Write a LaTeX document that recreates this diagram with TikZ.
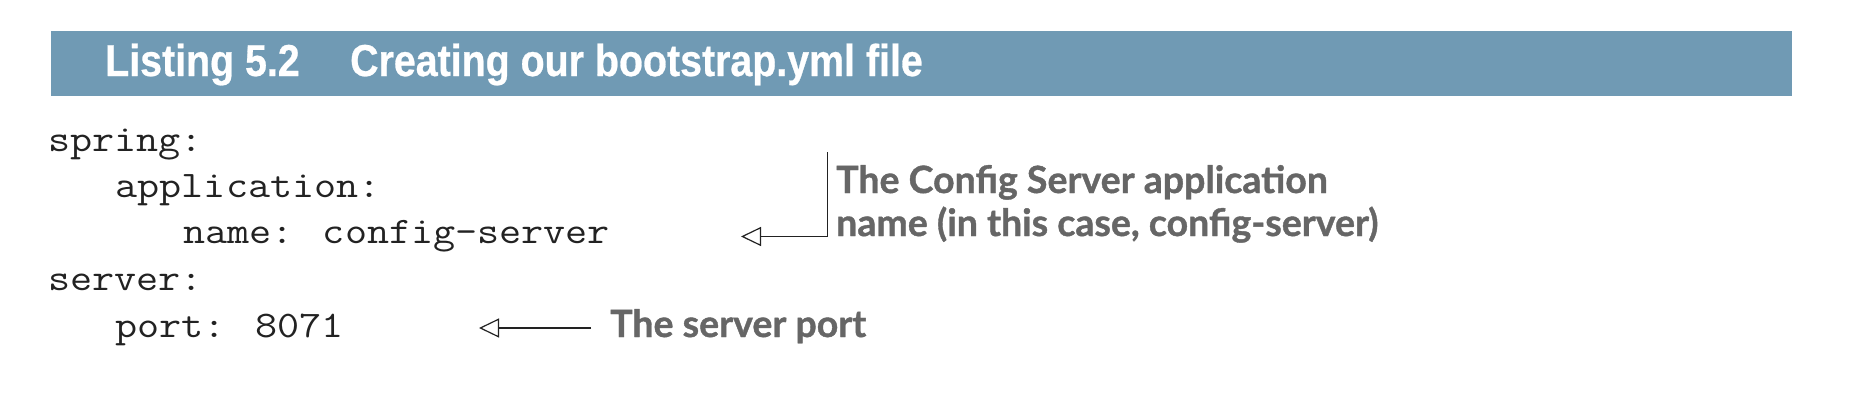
\documentclass[tikz,border=0pt]{standalone}
\usepackage{fontspec}
\usetikzlibrary{arrows.meta}
\newfontfamily\titlefont[FakeStretch=0.88,FakeBold=0.6]{Liberation Sans}
\newfontfamily\callfont[FakeBold=1.0]{Lato}
\newfontfamily\codefont[FakeStretch=1.143]{Latin Modern Mono}
\definecolor{barblue}{RGB}{112,154,180}
\definecolor{callgray}{RGB}{102,102,102}
\definecolor{codeink}{RGB}{34,34,34}
\tikzset{
  titletext/.style={anchor=base west, inner sep=0pt, text=white,
    font=\titlefont\bfseries\fontsize{44.7}{50}\selectfont},
  codeline/.style={anchor=base west, inner sep=0pt, text=codeink,
    font=\codefont\fontsize{37.5}{44}\selectfont},
  calltext/.style={anchor=base west, inner sep=0pt, text=callgray,
    font=\callfont\bfseries\fontsize{37.5}{43}\selectfont},
  callarrow/.style={draw=codeink, line width=1.2pt,
    -{Triangle[open, length=20pt, width=19pt]}}
}
\begin{document}
\begin{tikzpicture}[x=1pt, y=-1pt]
  \useasboundingbox (0,0) rectangle (1856,402);
  \fill[white] (0,0) rectangle (1856,402);
  % header bar
  \fill[barblue] (51,31) rectangle (1792,96);
  \node[titletext] (lst) at (105,76) {Listing 5.2};
  \node[titletext] (ttl) at (350,76) {Creating our bootstrap.yml file};
  % code
  \node[codeline] (l1) at (48,151) {spring:};
  \node[codeline] (l2) at (115.5,197) {application:};
  \node[codeline] (l3) at (183,243) {name: config-server};
  \node[codeline] (l4) at (48,290) {server:};
  \node[codeline] (l5) at (115.5,337) {port: 8071};
  % callouts
  \node[calltext] (c1a) at (836,193) {The Config Server application};
  \node[calltext] (c1b) at (836,236) {name (in this case, config-server)};
  \node[calltext] (c2) at (610,337) {The server port};
  \coordinate (c1top) at (827.5,152);
  \coordinate (c1tip) at (741,236.5);
  \coordinate (c2start) at (591,328);
  \coordinate (c2tip) at (479,328);
  \draw[callarrow] (c1top) |- (c1tip);
  \draw[callarrow] (c2start) -- (c2tip);
\end{tikzpicture}
\end{document}
